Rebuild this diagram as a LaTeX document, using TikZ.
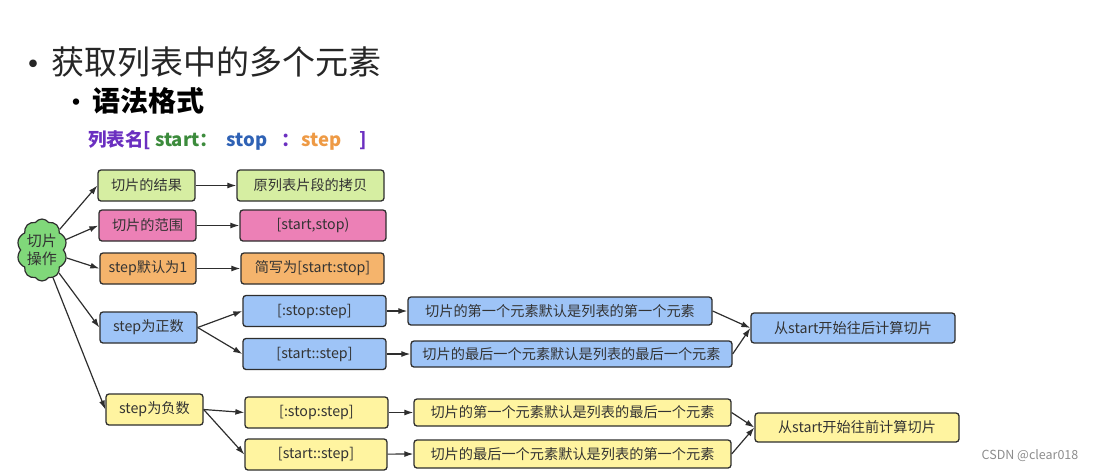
\documentclass[tikz,border=0pt]{standalone}
\usepackage{fontspec}
\setmainfont{Noto Sans CJK SC}
\usetikzlibrary{arrows.meta,shapes.symbols}
\definecolor{boxline}{HTML}{2E2E2E}
\definecolor{boxtext}{HTML}{333333}
\definecolor{resgreen}{HTML}{D6EEA2}
\definecolor{rngpink}{HTML}{EC80B6}
\definecolor{dftorange}{HTML}{F5B46C}
\definecolor{posblue}{HTML}{9EC4F7}
\definecolor{negyellow}{HTML}{FFF4A0}
\definecolor{cloudgreen}{HTML}{80D87A}
\definecolor{synpurple}{HTML}{6B2FC0}
\definecolor{syngreen}{HTML}{3C8B3C}
\definecolor{synblue}{HTML}{2F62B5}
\definecolor{synorange}{HTML}{EE9A45}

\tikzset{
  box/.style={draw=boxline, line width=1.3pt, rounded corners=3pt, minimum height=31pt,
    inner sep=0pt, text=boxtext, font=\fontsize{14.2}{16}\selectfont},
  link/.style={-{Latex[length=9pt,width=6pt]}, draw=boxline, line width=1.2pt},
}

\begin{document}
\begin{tikzpicture}[x=1pt, y=-1pt]
\useasboundingbox (0,0) rectangle (1098,472);
% heading lines
\node[font=\fontsize{36}{36}\selectfont, text=black!85, inner sep=0pt] (dot1) at (33,69) {•};
\node[anchor=west, inner sep=0pt, font=\fontsize{33}{36}\selectfont, text=black!85] (ttl) at (51,62) {获取列表中的多个元素};
\node[font=\fontsize{30}{30}\selectfont, inner sep=0pt] (dot2) at (76,106) {•};
\node[anchor=west, inner sep=0pt, font=\bfseries\fontsize{28}{30}\selectfont] (sub) at (92,101) {语法格式};
\node[anchor=west, inner sep=0pt, font=\bfseries\fontsize{18.5}{20}\selectfont] (syn) at (88,140)
  {\textcolor{synpurple}{列表名[}\hspace{4pt}\textcolor{syngreen}{start：}\hspace{8pt}\textcolor{synblue}{stop}\hspace{14pt}\textcolor{synpurple}{：}\hspace{2pt}\textcolor{synorange}{step}\hspace{18pt}\textcolor{synpurple}{]}};

% root
\node[cloud, cloud puffs=10, cloud puff arc=110, aspect=0.8, draw=boxline, line width=1.2pt,
  fill=cloudgreen, minimum width=50pt, minimum height=62pt, inner sep=0pt, align=center,
  text=boxtext, font=\fontsize{15}{18}\selectfont] (qp) at (42,250) {切片\\操作};

% first three rows
\node[box, fill=resgreen, minimum width=97pt] (res) at (146.5,185.5) {切片的结果};
\node[box, fill=resgreen, minimum width=147pt] (resv) at (310.5,185.5) {原列表片段的拷贝};
\node[box, fill=rngpink, minimum width=97pt] (rng) at (147.5,225.5) {切片的范围};
\node[box, fill=rngpink, minimum width=146pt] (rngv) at (313,225.5) {[start,stop)};
\node[box, fill=dftorange, minimum width=96pt] (dft) at (148,268.5) {step默认为1};
\node[box, fill=dftorange, minimum width=143pt] (dftv) at (312.5,268.5) {简写为[start:stop]};

% positive step
\node[box, fill=posblue, minimum width=97pt] (pos) at (148.5,327.5) {step为正数};
\node[box, fill=posblue, minimum width=143pt] (ps1) at (314.5,311) {[:stop:step]};
\node[box, fill=posblue, minimum width=143pt] (ps2) at (314.5,354) {[start::step]};
\node[box, fill=posblue, minimum width=304pt, minimum height=28pt] (ps1t) at (560,311) {切片的第一个元素默认是列表的第一个元素};
\node[box, fill=posblue, minimum width=321pt, minimum height=26pt] (ps2t) at (571.5,354) {切片的最后一个元素默认是列表的最后一个元素};
\node[box, fill=posblue, minimum width=204pt, minimum height=30pt] (posr) at (853,328) {从start开始往后计算切片};

% negative step
\node[box, fill=negyellow, minimum width=97pt] (neg) at (154.5,409.5) {step为负数};
\node[box, fill=negyellow, minimum width=143pt] (ng1) at (316.5,412.5) {[:stop:step]};
\node[box, fill=negyellow, minimum width=142pt] (ng2) at (316,454.5) {[start::step]};
\node[box, fill=negyellow, minimum width=317pt, minimum height=27pt] (ng1t) at (572.5,412.5) {切片的第一个元素默认是列表的最后一个元素};
\node[box, fill=negyellow, minimum width=317pt, minimum height=28pt] (ng2t) at (572.5,454) {切片的最后一个元素默认是列表的第一个元素};
\node[box, fill=negyellow, minimum width=204pt, minimum height=29pt] (negr) at (857,427.5) {从start开始往前计算切片};

% connectors
\foreach \a/\b in {qp/res, qp/rng, qp/dft, qp/pos, qp/neg, res/resv, rng/rngv, dft/dftv,
    ps1/ps1t, ps2/ps2t, ng1/ng1t, ng2/ng2t}
  \draw[link] (\a) -- (\b.west);
\foreach \a/\b in {pos/ps1, pos/ps2, neg/ng1, neg/ng2, ps1t/posr, ps2t/posr, ng1t/negr, ng2t/negr}
  \draw[link] (\a.east) -- (\b.west);

\node[text=black!45, font=\fontsize{12.5}{14}\selectfont] (mark) at (1030,456) {CSDN @clear018};
\end{tikzpicture}
\end{document}
